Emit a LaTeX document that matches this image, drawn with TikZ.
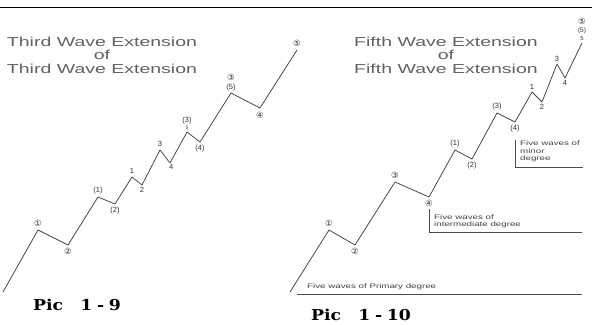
\documentclass[tikz,border=0pt]{standalone}
\usepackage{graphicx}
\usepackage{fontspec}
\setmainfont{Liberation Sans}
\newfontfamily\circfont{DejaVu Sans}
\newfontfamily\picfont{DejaVu Serif}
\newcommand{\widetxt}[1]{\scalebox{1.5}[1]{#1}}
\begin{document}
\begin{tikzpicture}[x=1pt,y=-1pt,
  wave/.style={draw=black!75, line width=0.75pt, line join=round},
  brk/.style={draw=black!70, line width=0.8pt},
  lab/.style={font=\fontsize{7.5}{7.5}\selectfont, inner sep=1pt, text=black!80},
  clab/.style={font=\circfont\fontsize{8.5}{8.5}\selectfont, inner sep=1pt, text=black!80},
  ttl/.style={font=\fontsize{13}{13}\selectfont, text=black!62, inner sep=0pt},
  note/.style={font=\fontsize{6.5}{6.5}\selectfont, text=black!75, inner sep=0pt, anchor=west},
  pic/.style={font=\picfont\bfseries\fontsize{15}{15}\selectfont, inner sep=0pt, anchor=west}]
\useasboundingbox (0,0) rectangle (597,324);
\fill[white] (0,0) rectangle (597,324);
\coordinate (T0) at (0,7);
\coordinate (T1) at (592,7);
\draw[line width=1pt] (T0) -- (T1);

% ---------------- left diagram ----------------
\node[ttl] (lt1) at (102,42) {\widetxt{Third Wave Extension}};
\node[ttl] (lt2) at (102,55) {\widetxt{of}};
\node[ttl] (lt3) at (102,69) {\widetxt{Third Wave Extension}};

\coordinate (L0) at (3,292);
\coordinate (L1) at (38,230);
\coordinate (L2) at (68,245);
\coordinate (L3) at (98,197);
\coordinate (L4) at (115,204);
\coordinate (L5) at (132,177);
\coordinate (L6) at (142,185);
\coordinate (L7) at (160,150);
\coordinate (L8) at (170,163);
\coordinate (L9) at (187,132);
\coordinate (L10) at (200,142);
\coordinate (L11) at (231,93);
\coordinate (L12) at (260,108);
\coordinate (L13) at (297,50);
\draw[wave] (L0) -- (L1) -- (L2) -- (L3) -- (L4) -- (L5) -- (L6) -- (L7) -- (L8) -- (L9) -- (L10) -- (L11) -- (L12) -- (L13);

\node[clab, anchor=south] (lL1) at ([yshift=2pt]L1) {①};
\node[clab, anchor=north] (lL2) at ([yshift=-2pt]L2) {②};
\node[lab, anchor=south] (lL3) at ([yshift=2pt]L3) {(1)};
\node[lab, anchor=north] (lL4) at ([yshift=-2pt]L4) {(2)};
\node[lab, anchor=south] (lL5) at ([yshift=2pt]L5) {1};
\node[lab, anchor=north] (lL6) at ([yshift=-1pt]L6) {2};
\node[lab, anchor=south] (lL7) at ([yshift=2pt]L7) {3};
\node[lab, anchor=north west] (lL8) at ([xshift=-2pt]L8) {4};
\node[lab, anchor=south, font=\fontsize{5}{5}\selectfont] (lL9b) at ([yshift=1pt]L9) {5};
\node[lab, anchor=south] (lL9) at (lL9b.north) {(3)};
\node[lab, anchor=north] (lL10) at ([yshift=-2pt]L10) {(4)};
\node[lab, anchor=south] (lL11b) at ([yshift=1pt]L11) {(5)};
\node[clab, anchor=south] (lL11) at ([yshift=0.5pt]lL11b.north) {③};
\node[clab, anchor=north] (lL12) at ([yshift=-3pt]L12) {④};
\node[clab, anchor=south] (lL13) at ([yshift=2pt]L13) {⑤};

\node[pic] (pic9) at (33,305) {\scalebox{1.15}[1]{Pic\hspace{15pt}1\hspace{4pt}-\hspace{4pt}9}};

% ---------------- right diagram ----------------
\node[ttl] (rt1) at (446,42) {\widetxt{Fifth Wave Extension}};
\node[ttl] (rt2) at (446,55) {\widetxt{of}};
\node[ttl] (rt3) at (446,69) {\widetxt{Fifth Wave Extension}};

\coordinate (R0) at (290,292);
\coordinate (R1) at (329,230);
\coordinate (R2) at (355,245);
\coordinate (R3) at (395,182);
\coordinate (R4) at (429,197);
\coordinate (R5) at (455,150);
\coordinate (R6) at (472,159);
\coordinate (R7) at (497,113);
\coordinate (R8) at (515,122);
\coordinate (R9) at (532,92);
\coordinate (R10) at (542,102);
\coordinate (R11) at (557,64);
\coordinate (R12) at (565,78);
\coordinate (R13) at (582,43);
\draw[wave] (R0) -- (R1) -- (R2) -- (R3) -- (R4) -- (R5) -- (R6) -- (R7) -- (R8) -- (R9) -- (R10) -- (R11) -- (R12) -- (R13);

\node[clab, anchor=south] (lR1) at ([yshift=2pt]R1) {①};
\node[clab, anchor=north] (lR2) at ([yshift=-2pt]R2) {②};
\node[clab, anchor=south] (lR3) at ([yshift=2pt]R3) {③};
\node[clab, anchor=north] (lR4) at ([yshift=-2pt]R4) {④};
\node[lab, anchor=south] (lR5) at ([yshift=2pt]R5) {(1)};
\node[lab, anchor=north] (lR6) at ([yshift=-2pt]R6) {(2)};
\node[lab, anchor=south] (lR7) at ([yshift=2pt]R7) {(3)};
\node[lab, anchor=north] (lR8) at ([yshift=-2pt]R8) {(4)};
\node[lab, anchor=south] (lR9) at ([yshift=1pt]R9) {1};
\node[lab, anchor=north] (lR10) at ([yshift=-1pt]R10) {2};
\node[lab, anchor=south] (lR11) at ([yshift=1pt]R11) {3};
\node[lab, anchor=north] (lR12) at ([yshift=-1pt]R12) {4};
\node[lab, anchor=south, font=\fontsize{6}{6}\selectfont] (lR13a) at ([yshift=1pt]R13) {5};
\node[lab, anchor=south, font=\fontsize{6.5}{6.5}\selectfont] (lR13b) at ([yshift=0pt]lR13a.north) {(5)};
\node[clab, anchor=south] (lR13c) at ([yshift=1pt]lR13b.north) {⑤};

% minor degree bracket
\coordinate (M0) at (515,140);
\coordinate (M1) at (515,167);
\coordinate (M2) at (583,167);
\draw[brk] (M0) -- (M1) -- (M2);
\node[note] (mn1) at (520,143) {\widetxt{Five waves of}};
\node[note] (mn2) at (520,151) {\widetxt{minor}};
\node[note] (mn3) at (520,159) {\widetxt{degree}};

% intermediate degree bracket
\coordinate (I0) at (429,209);
\coordinate (I1) at (429,232);
\coordinate (I2) at (582,232);
\draw[brk] (I0) -- (I1) -- (I2);
\node[note] (in1) at (434,217) {\widetxt{Five waves of}};
\node[note] (in2) at (434,225) {\widetxt{intermediate degree}};

% primary degree line
\coordinate (P0) at (297,294);
\coordinate (P1) at (582,294);
\draw[brk] (P0) -- (P1);
\node[note] (pn1) at (307,287) {\widetxt{Five waves of Primary degree}};

\node[pic] (pic10) at (311,315) {\scalebox{1.15}[1]{Pic\hspace{15pt}1\hspace{4pt}-\hspace{4pt}10}};
\end{tikzpicture}
\end{document}
